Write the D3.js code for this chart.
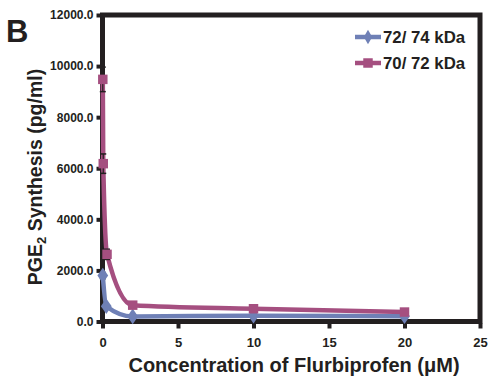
<!DOCTYPE html>
<html><head><meta charset="utf-8">
<script src="https://cdn.jsdelivr.net/npm/d3@7"></script>
<style>body{margin:0;background:#fff}svg{display:block}text{font-family:"Liberation Sans",Arial,sans-serif;font-weight:bold;fill:#231f20}</style>
</head><body>
<svg id="c" width="490" height="379"></svg>
<script>
// Data
const seriesNames = ["72/ 74 kDa", "70/ 72 kDa"];
const concBlue = [0.02, 0.25, 2, 10, 20];
const valsBlue = [1800, 600, 200, 230, 210];
const errBlue = [120, 60, 40, 40, 40];
const concMag = [0.02, 0.05, 0.3, 2, 10, 20];
const valsMag = [9480, 6180, 2630, 640, 500, 370];
const errMag = [480, 380, 200, 60, 60, 50];
const xTicks = [0, 5, 10, 15, 20, 25];
const yTicks = [0, 2000, 4000, 6000, 8000, 10000, 12000];

const svg = d3.select("#c");
const L = 102.5, R = 480, T = 15, B = 321.5;
const x = d3.scaleLinear().domain([0, 25]).range([L, R]);
const y = d3.scaleLinear().domain([0, 12000]).range([B, T]);
const blue = "#6f80b6", mag = "#a54f80";

// frame
svg.append("rect").attr("x", L).attr("y", T).attr("width", R - L).attr("height", B - T)
  .attr("fill", "none").attr("stroke", "#231f20").attr("stroke-width", 5);

// axes
const yAx = svg.append("g").attr("transform", `translate(${L - 2},0)`)
  .call(d3.axisLeft(y).tickValues(yTicks).tickFormat(d3.format(".1f")).tickSize(4).tickPadding(3));
yAx.select(".domain").remove();
yAx.selectAll("line").attr("stroke", "#231f20").attr("stroke-width", 4);
yAx.selectAll("text").style("font-size", "12px").attr("fill", "#231f20");

const xAx = svg.append("g").attr("transform", `translate(0,${B + 2})`)
  .call(d3.axisBottom(x).tickValues(xTicks).tickSize(5).tickPadding(9));
xAx.select(".domain").remove();
xAx.selectAll("line").attr("stroke", "#231f20").attr("stroke-width", 4);
xAx.selectAll("text").style("font-size", "13px").attr("fill", "#231f20");

// series
function drawSeries(xs, vs, es, color, shape) {
  const pts = xs.map((d, i) => [x(d), y(vs[i])]);
  svg.append("path").attr("d", d3.line().curve(d3.curveMonotoneX)(pts))
    .attr("fill", "none").attr("stroke", color).attr("stroke-width", 4.5);
  const g = svg.append("g");
  xs.forEach((d, i) => {
    const cx = x(d), top = y(vs[i] + es[i]), bot = y(vs[i] - es[i]);
    g.append("line").attr("x1", cx).attr("x2", cx).attr("y1", top).attr("y2", bot).attr("stroke", "#231f20").attr("stroke-width", 1.2);
    [top, bot].forEach(v => g.append("line").attr("x1", cx - 3).attr("x2", cx + 3).attr("y1", v).attr("y2", v).attr("stroke", "#231f20").attr("stroke-width", 1.5));
  });
  xs.forEach((d, i) => {
    g.append("path")
      .attr("d", d3.symbol().type(shape).size(shape === d3.symbolSquare ? 90 : 70)())
      .attr("fill", color).attr("transform", `translate(${x(d)},${y(vs[i])})` + (shape === d3.symbolDiamond ? " scale(1.2,1)" : ""));
  });
}
drawSeries(concBlue, valsBlue, errBlue, blue, d3.symbolDiamond);
drawSeries(concMag, valsMag, errMag, mag, d3.symbolSquare);

// legend
const lg = [[blue, d3.symbolDiamond, 37], [mag, d3.symbolSquare, 63]];
lg.forEach((l, i) => {
  svg.append("line").attr("x1", 355).attr("x2", 381).attr("y1", l[2]).attr("y2", l[2]).attr("stroke", l[0]).attr("stroke-width", 4.5);
  svg.append("path").attr("transform", `translate(368,${l[2]})`).attr("d", d3.symbol().type(l[1]).size(l[1] === d3.symbolSquare ? 90 : 60)()).attr("fill", l[0]);
  svg.append("text").attr("x", 383).attr("y", l[2] + 6).style("font-size", "16.8px").text(seriesNames[i]);
});

// titles
svg.append("text").attr("x", 294).attr("y", 372).attr("text-anchor", "middle").style("font-size", "20px")
  .text("Concentration of Flurbiprofen (μM)");
const yt = svg.append("text").attr("transform", "translate(42,177) rotate(-90)").attr("text-anchor", "middle").style("font-size", "19.5px");
yt.append("tspan").text("PGE");
yt.append("tspan").attr("dy", 4).style("font-size", "13px").text("2");
yt.append("tspan").attr("dy", -4).text(" Synthesis (pg/ml)");
svg.append("text").attr("x", 6).attr("y", 42).style("font-size", "31px").text("B");
</script>
</body></html>
